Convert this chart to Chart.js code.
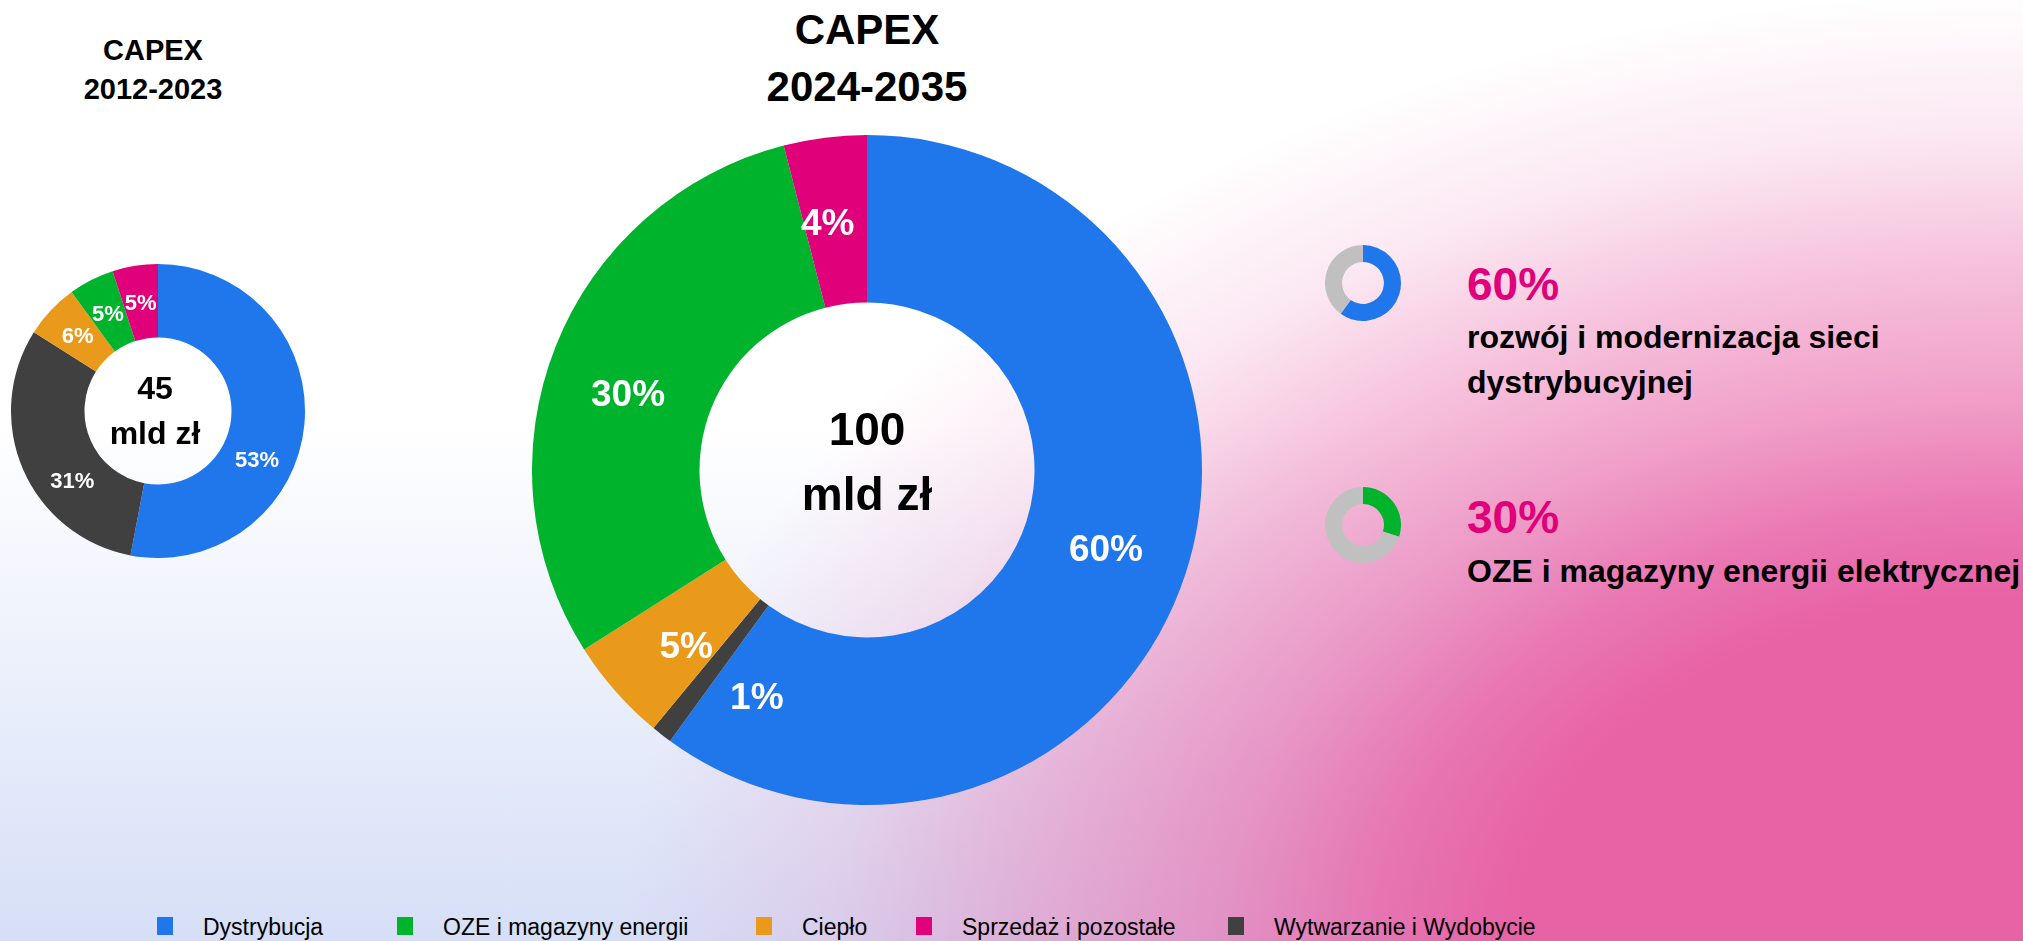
<!DOCTYPE html>
<html lang="pl">
<head>
<meta charset="utf-8">
<title>CAPEX</title>
<script src="https://cdn.jsdelivr.net/npm/chart.js@4.4.0/dist/chart.umd.min.js"></script>
<style>
    html, body { margin: 0; padding: 0; }
    body {
        width: 2023px;
        height: 941px;
        overflow: hidden;
        position: relative;
        font-family: "Liberation Sans", Arial, sans-serif;
        background:
            radial-gradient(ellipse 1400px 950px at 100% 100%,
                rgba(232, 98, 166, 1) 0%,
                rgba(232, 98, 166, 1) 36%,
                rgba(232, 98, 166, 0.85) 46%,
                rgba(232, 98, 166, 0.62) 57%,
                rgba(232, 98, 166, 0.38) 72%,
                rgba(232, 98, 166, 0.15) 85%,
                rgba(232, 98, 166, 0) 100%),
            linear-gradient(to bottom, #ffffff 0%, #ffffff 45%, #d6dff7 100%);
    }
    canvas { position: absolute; }
    .txt { position: absolute; white-space: nowrap; line-height: 1; font-weight: bold; color: #000; }
    .center { transform: translateX(-50%); }
    .pink { color: #e0007a; }
    .legend-item { position: absolute; top: 917px; height: 20px; white-space: nowrap; font-size: 23px; line-height: 20px; color: #000; }
    .legend-item i { display: inline-block; width: 16px; height: 18px; vertical-align: top; margin-right: 30px; }
</style>
</head>
<body>

<div class="txt center" style="left:153px; top:36px; font-size:29px;">CAPEX</div>
<div class="txt center" style="left:153px; top:75px; font-size:29px;">2012-2023</div>
<div class="txt center" style="left:867px; top:9px; font-size:42px;">CAPEX</div>
<div class="txt center" style="left:867px; top:66px; font-size:42px;">2024-2035</div>

<canvas id="pastChart" width="294" height="294" style="left:11px; top:264px;"></canvas>
<canvas id="planChart" width="670" height="670" style="left:532px; top:135px;"></canvas>
<canvas id="mini0" width="76" height="76" style="left:1325px; top:245px;"></canvas>
<canvas id="mini1" width="76" height="76" style="left:1325px; top:487px;"></canvas>

<div id="highlights"></div>
<div id="legend"></div>

<script>
// Slices run clockwise from 12 o'clock in this order
const categories = ['Dystrybucja', 'Wytwarzanie i Wydobycie', 'Ciepło', 'OZE i magazyny energii', 'Sprzedaż i pozostałe'];
const capexPast = [53, 31, 6, 5, 5];   // CAPEX 2012-2023, %
const capexPlan = [60, 1, 5, 30, 4];   // CAPEX 2024-2035, %
const totals = ['45', '100'];          // mld zł

// Legend order as shown under the charts
const legendOrder = ['Dystrybucja', 'OZE i magazyny energii', 'Ciepło', 'Sprzedaż i pozostałe', 'Wytwarzanie i Wydobycie'];

// Shares picked out on the right
const highlightCats = ['Dystrybucja', 'OZE i magazyny energii'];
const highlightTexts = [
    ['rozwój i modernizacja sieci', 'dystrybucyjnej'],
    ['OZE i magazyny energii elektrycznej']
];

const colors = {
    'Dystrybucja': '#1f77eb',
    'Wytwarzanie i Wydobycie': '#404040',
    'Ciepło': '#e99a1a',
    'OZE i magazyny energii': '#00b32c',
    'Sprzedaż i pozostałe': '#e0007a'
};
const restColor = '#c0c0c0';

// Percentage labels at the middle of each ring slice
const sliceLabels = {
    id: 'sliceLabels',
    afterDatasetsDraw(chart, args, opts) {
        const ctx = chart.ctx;
        const meta = chart.getDatasetMeta(0);
        const values = chart.data.datasets[0].data;
        const angles = opts.angles || {};
        ctx.save();
        ctx.font = 'bold ' + opts.size + 'px "Liberation Sans", Arial, sans-serif';
        ctx.fillStyle = '#ffffff';
        ctx.textAlign = 'center';
        ctx.textBaseline = 'alphabetic';
        meta.data.forEach((arc, i) => {
            const p = arc.getProps(['x', 'y', 'startAngle', 'endAngle', 'innerRadius', 'outerRadius'], true);
            let a = (p.startAngle + p.endAngle) / 2;
            if (angles[i] !== undefined) a = angles[i] * Math.PI / 180 - Math.PI / 2;
            const r = (p.innerRadius + p.outerRadius) / 2;
            const x = p.x + Math.cos(a) * r;
            const y = p.y + Math.sin(a) * r + opts.size * 0.36;
            ctx.fillText(values[i] + '%', x, y);
        });
        ctx.restore();
    }
};

// Total in the hole
const centerText = {
    id: 'centerText',
    afterDraw(chart, args, opts) {
        const ctx = chart.ctx;
        const arc = chart.getDatasetMeta(0).data[0];
        ctx.save();
        ctx.font = 'bold ' + opts.size + 'px "Liberation Sans", Arial, sans-serif';
        ctx.fillStyle = '#000000';
        ctx.textAlign = 'center';
        ctx.fillText(opts.value, arc.x + opts.dx, arc.y + opts.top);
        ctx.fillText('mld zł', arc.x + opts.dx, arc.y + opts.bottom);
        ctx.restore();
    }
};

function makeDonut(id, labels, values, cols, cutout, labelOpts, centerOpts) {
    return new Chart(document.getElementById(id), {
        type: 'doughnut',
        data: {
            labels: labels,
            datasets: [{
                data: values,
                backgroundColor: cols,
                borderWidth: 0,
                hoverOffset: 0
            }]
        },
        options: {
            responsive: false,
            animation: false,
            events: [],
            cutout: cutout,
            layout: { padding: 0 },
            plugins: {
                legend: { display: false },
                tooltip: { enabled: false },
                sliceLabels: labelOpts,
                centerText: centerOpts
            }
        },
        plugins: [sliceLabels, centerText]
    });
}

const catColors = categories.map(c => colors[c]);

makeDonut('pastChart', categories, capexPast, catColors, '50%',
    { size: 22, angles: { 0: 116, 1: 231 } },
    { value: totals[0], size: 32, dx: -3, top: -12, bottom: 33 });

makeDonut('planChart', categories, capexPlan, catColors, '50%',
    { size: 37, angles: { 1: 206, 2: 226, 3: 288, 4: 351 } },
    { value: totals[1], size: 46, dx: 0, top: -25, bottom: 40 });

// Small share rings and their captions
const textTops = [[261, 321, 366], [494, 555]];
highlightCats.forEach((cat, k) => {
    const share = capexPlan[categories.indexOf(cat)];
    makeDonut('mini' + k, [cat, 'pozostałe'], [share, 100 - share], [colors[cat], restColor], '55%', false, false);

    const box = document.getElementById('highlights');
    const big = document.createElement('div');
    big.className = 'txt pink';
    big.style.cssText = 'left:1467px; top:' + textTops[k][0] + 'px; font-size:46px;';
    big.textContent = share + '%';
    box.appendChild(big);
    highlightTexts[k].forEach((line, j) => {
        const d = document.createElement('div');
        d.className = 'txt';
        d.style.cssText = 'left:1467px; top:' + textTops[k][j + 1] + 'px; font-size:32px;';
        d.textContent = line;
        box.appendChild(d);
    });
});

// Legend
const legendX = [157, 397, 756, 916, 1228];
const legend = document.getElementById('legend');
legendOrder.forEach((cat, i) => {
    const item = document.createElement('div');
    item.className = 'legend-item';
    item.style.left = legendX[i] + 'px';
    item.innerHTML = '<i style="background:' + colors[cat] + '"></i>' + cat;
    legend.appendChild(item);
});
</script>
</body>
</html>
